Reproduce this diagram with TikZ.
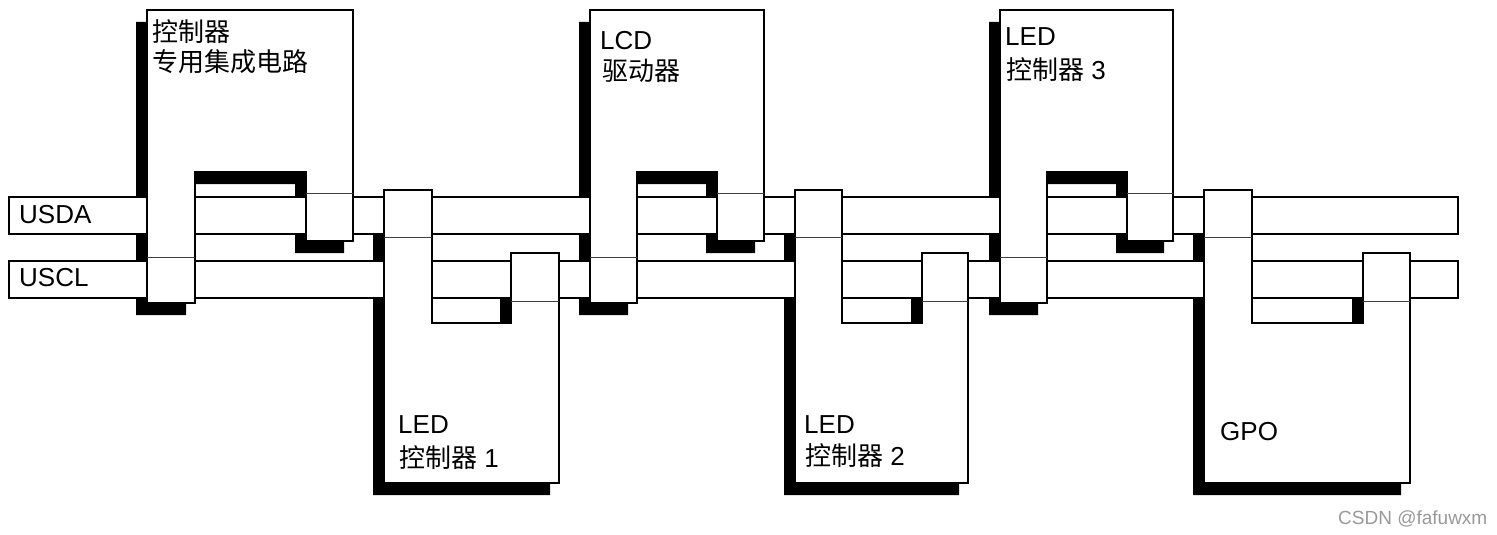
\documentclass[tikz,border=0pt]{standalone}
\usepackage{fontspec}
\setmainfont{Liberation Sans}
\newfontfamily\cjk{Noto Sans CJK SC}
\tikzset{
  shadowfill/.style={fill=black, draw=none},
  busbox/.style={fill=white, draw=black, line width=2pt},
  devbox/.style={fill=white, draw=black, line width=2pt, line join=miter},
  pinline/.style={draw=black!75, line width=1pt},
  lbl/.style={anchor=base west, inner sep=0pt, font=\fontsize{26}{30}\selectfont},
  wmark/.style={anchor=base west, inner sep=0pt, text=black!40, font=\fontsize{19}{22}\selectfont},
}
% top device: #1 left, #2 left-column right, #3 right-pin left, #4 right
\newcommand\ShadowTop[4]{\fill[shadowfill,shift={(-10,12)}] (#1-1,10) -- (#4+1,10) -- (#4+1,241) -- (#3-1,241) -- (#3-1,172) -- (#2+1,172) -- (#2+1,303) -- (#1-1,303) -- cycle;}
\newcommand\BodyTop[4]{\draw[devbox] (#1,10) -- (#4,10) -- (#4,241) -- (#3,241) -- (#3,172) -- (#2,172) -- (#2,303) -- (#1,303) -- cycle;
  \draw[pinline] (#3,193) -- (#4,193);
  \draw[pinline] (#1,257) -- (#2,257);}
% bottom device
\newcommand\ShadowBot[4]{\fill[shadowfill,shift={(-10,12)}] (#1-1,190) -- (#2+1,190) -- (#2+1,323) -- (#3-1,323) -- (#3-1,253) -- (#4+1,253) -- (#4+1,483) -- (#1-1,483) -- cycle;}
\newcommand\BodyBot[4]{\draw[devbox] (#1,190) -- (#2,190) -- (#2,323) -- (#3,323) -- (#3,253) -- (#4,253) -- (#4,483) -- (#1,483) -- cycle;
  \draw[pinline] (#1,237) -- (#2,237);
  \draw[pinline] (#3,301) -- (#4,301);}
\begin{document}
\begin{tikzpicture}[x=1pt,y=-1pt]
\useasboundingbox (0,0) rectangle (1497,535);
% shadows
\ShadowTop{147}{195}{306}{353}
\ShadowTop{590}{637}{717}{764}
\ShadowTop{1000}{1047}{1127}{1173}
\ShadowBot{384}{432}{511}{559}
\ShadowBot{795}{842}{922}{968}
\ShadowBot{1204}{1252}{1363}{1410}
% buses
\draw[busbox] (9,197) rectangle (1458,234);
\draw[busbox] (9,261) rectangle (1458,298);
% device bodies
\BodyTop{147}{195}{306}{353}
\BodyTop{590}{637}{717}{764}
\BodyTop{1000}{1047}{1127}{1173}
\BodyBot{384}{432}{511}{559}
\BodyBot{795}{842}{922}{968}
\BodyBot{1204}{1252}{1363}{1410}
% labels
\node[lbl] (usda) at (19,223) {USDA};
\node[lbl] (uscl) at (19,286) {USCL};
\node[lbl] (asic1) at (152,42) {\cjk 控制器};
\node[lbl] (asic2) at (152,72) {\cjk 专用集成电路};
\node[lbl] (lcd1) at (600,50) {LCD};
\node[lbl] (lcd2) at (602,81) {\cjk 驱动器};
\node[lbl] (led3a) at (1005,46) {LED};
\node[lbl] (led3b) at (1006,80) {{\cjk 控制器} 3};
\node[lbl] (led1a) at (398,433) {LED};
\node[lbl] (led1b) at (399,467) {{\cjk 控制器} 1};
\node[lbl] (led2a) at (804,433) {LED};
\node[lbl] (led2b) at (805,465) {{\cjk 控制器} 2};
\node[lbl] (gpo) at (1220,440) {GPO};
\node[wmark] (wm) at (1338,524) {CSDN @fafuwxm};
\end{tikzpicture}
\end{document}
